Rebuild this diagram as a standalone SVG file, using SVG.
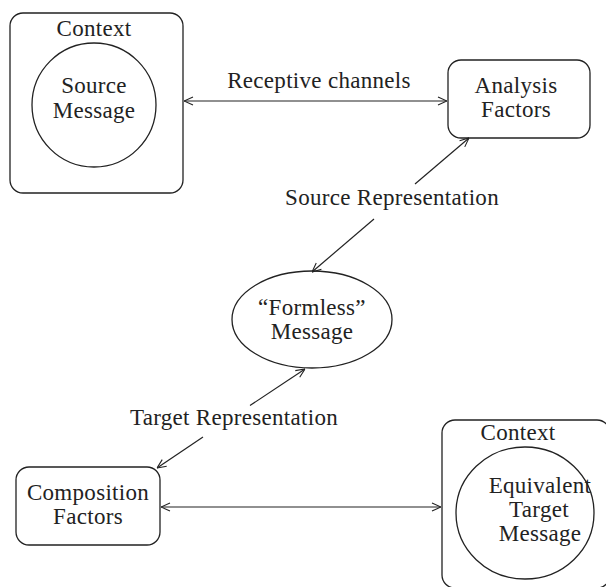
<svg xmlns="http://www.w3.org/2000/svg" width="606" height="587" viewBox="0 0 606 587">
  <defs>
    <marker id="tip" viewBox="0 0 10 10" refX="10" refY="5" markerWidth="10" markerHeight="10" markerUnits="userSpaceOnUse" orient="auto-start-reverse">
      <path d="M1,1 L10,5 L1,9" fill="none" stroke="#222" stroke-width="1.1"/>
    </marker>
    <style>
      .box { fill: none; stroke: #222; stroke-width: 1.3; }
      .edge { fill: none; stroke: #222; stroke-width: 1.2; }
      text { font-family: "Liberation Serif", "Times New Roman", serif; font-size: 23px; fill: #222; text-anchor: middle; letter-spacing: 0.3px; }
    </style>
  </defs>
  <rect width="606" height="587" fill="#fff"/>

  <!-- source side: context with source message -->
  <g id="source-context">
    <rect class="box" x="10" y="13" width="173" height="180" rx="13"/>
    <text x="94" y="36">Context</text>
  </g>
  <g id="source-message">
    <circle class="box" cx="94" cy="105" r="62"/>
    <text x="94" y="93">Source</text>
    <text x="94" y="118">Message</text>
  </g>

  <g id="analysis-factors">
    <rect class="box" x="448" y="60" width="142" height="78" rx="13"/>
    <text x="516" y="93">Analysis</text>
    <text x="516" y="117">Factors</text>
  </g>

  <g id="formless-message">
    <ellipse class="box" cx="312" cy="319.5" rx="80" ry="48.5"/>
    <text x="312" y="315">“Formless”</text>
    <text x="312" y="339">Message</text>
  </g>

  <g id="composition-factors">
    <rect class="box" x="16" y="467" width="144" height="78" rx="13"/>
    <text x="88" y="500">Composition</text>
    <text x="88" y="524">Factors</text>
  </g>

  <!-- target side: context with equivalent message -->
  <g id="target-context">
    <rect class="box" x="442" y="420" width="168" height="168" rx="13"/>
    <text x="518" y="440">Context</text>
  </g>
  <g id="target-message">
    <ellipse class="box" cx="525" cy="513" rx="69" ry="66"/>
    <text x="540" y="493">Equivalent</text>
    <text x="539" y="517">Target</text>
    <text x="540" y="541">Message</text>
  </g>

  <!-- connectors -->
  <g id="connectors">
    <line class="edge" x1="184" y1="101" x2="447" y2="101" marker-start="url(#tip)" marker-end="url(#tip)"/>
    <text x="319" y="88">Receptive channels</text>

    <line class="edge" x1="415" y1="184" x2="469" y2="138" marker-end="url(#tip)"/>
    <line class="edge" x1="374" y1="219" x2="312" y2="272" marker-end="url(#tip)"/>
    <text x="392" y="205">Source Representation</text>

    <line class="edge" x1="250" y1="405.5" x2="305" y2="369" marker-end="url(#tip)"/>
    <line class="edge" x1="203" y1="437" x2="157" y2="468" marker-end="url(#tip)"/>
    <text x="234" y="425">Target Representation</text>

    <line class="edge" x1="161" y1="507" x2="441" y2="507" marker-start="url(#tip)" marker-end="url(#tip)"/>
  </g>
</svg>
